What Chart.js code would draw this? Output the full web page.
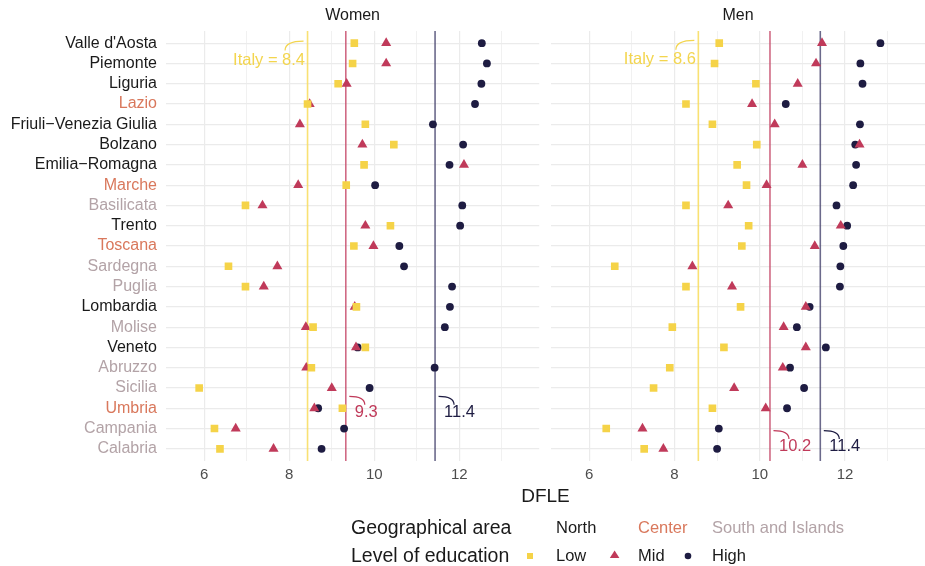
<!DOCTYPE html>
<html><head><meta charset="utf-8">
<script src="https://cdn.jsdelivr.net/npm/chart.js@4.4.1/dist/chart.umd.min.js"></script>
<style>
html,body{margin:0;padding:0;background:#fff;}
#wrap{position:relative;width:925px;height:566px;overflow:hidden;font-family:"Liberation Sans",Arial,sans-serif;}
#left{position:absolute;left:0;top:0;width:545px;height:566px;}
#right{position:absolute;left:545px;top:0;width:386px;height:566px;}
.t{position:absolute;white-space:nowrap;line-height:1;}
</style></head><body>
<div id="wrap">
<div id="left"><canvas id="cL"></canvas></div>
<div id="right"><canvas id="cR"></canvas></div>
<div class="t" style="left:520px;top:486px;font-size:19px;color:#1a1a1a;width:51px;text-align:center;">DFLE</div>
<div class="t" style="left:351px;top:518px;font-size:19.5px;color:#1a1a1a;">Geographical area</div>
<div class="t" style="left:556px;top:519px;font-size:16.5px;color:#1a1a1a;">North</div>
<div class="t" style="left:638px;top:519px;font-size:16.5px;color:#D9785C;">Center</div>
<div class="t" style="left:712px;top:519px;font-size:16.5px;color:#B3A3A7;">South and Islands</div>
<div class="t" style="left:351px;top:546px;font-size:19.5px;color:#1a1a1a;">Level of education</div>
<svg style="position:absolute;left:520px;top:546px;" width="190" height="20">
  <rect x="7" y="7" width="6" height="6" fill="#F5D348"/>
  <polygon points="94.6,4.5 99.4,12 89.8,12" fill="#C03A5A"/>
  <circle cx="168" cy="10" r="3.3" fill="#1E1C42"/>
</svg>
<div class="t" style="left:556px;top:547px;font-size:16.5px;color:#1a1a1a;">Low</div>
<div class="t" style="left:638px;top:547px;font-size:16.5px;color:#1a1a1a;">Mid</div>
<div class="t" style="left:712px;top:547px;font-size:16.5px;color:#1a1a1a;">High</div>
</div>
<script>
const regions = ["Valle d'Aosta","Piemonte","Liguria","Lazio","Friuli\u2212Venezia Giulia","Bolzano","Emilia\u2212Romagna","Marche","Basilicata","Trento","Toscana","Sardegna","Puglia","Lombardia","Molise","Veneto","Abruzzo","Sicilia","Umbria","Campania","Calabria"];
const areas = ["North","North","North","Center","North","North","North","Center","South","North","Center","South","South","North","South","North","South","South","Center","South","South"];
const womenLow  = [9.53,9.49,9.15,8.43,9.79,10.46,9.76,9.34,6.97,10.38,9.52,6.57,6.97,9.58,8.56,9.79,8.52,5.88,9.25,6.24,6.37];
const womenMid  = [10.28,10.28,9.35,8.48,8.25,9.72,12.11,8.21,7.37,9.79,9.98,7.72,7.40,9.54,8.39,9.57,8.40,9.00,8.59,6.74,7.63];
const womenHigh = [12.53,12.65,12.52,12.37,11.38,12.09,11.77,10.02,12.07,12.02,10.59,10.70,11.83,11.78,11.66,9.61,11.42,9.89,8.68,9.29,8.76];
const menLow    = [9.05,8.94,9.91,8.27,8.89,9.93,9.47,9.69,8.27,9.74,9.58,6.60,8.27,9.55,7.95,9.16,7.89,7.51,8.89,6.40,7.29];
const menMid    = [11.46,11.32,10.89,9.82,10.35,12.34,11.00,10.16,9.26,11.90,11.29,8.42,9.35,11.08,10.56,11.08,10.54,9.40,10.14,7.25,7.74];
const menHigh   = [12.83,12.36,12.41,10.61,12.35,12.24,12.26,12.19,11.80,12.05,11.96,11.89,11.88,11.17,10.87,11.55,10.71,11.04,10.64,9.04,9.00];
const italyWomen = [8.43, 9.33, 11.43];   // Low, Mid, High national values
const italyMen   = [8.56, 10.24, 11.42];
const xGrid = [6,7,8,9,10,11,12,13];
const xTickLabels = [6,8,10,12];

const FONT = '"Liberation Sans", Arial, sans-serif';
const areaColor = {North:'#1a1a1a', Center:'#D9785C', South:'#B3A3A7'};
const COL = {low:'#F5D348', mid:'#C03A5A', high:'#1E1C42'};
const LINECOL = ['rgba(248,222,100,0.9)','rgba(200,80,110,0.85)','rgba(70,68,110,0.8)'];

const annPlugin = {
  id:'ann',
  afterDatasetsDraw(chart, args, opts) {
    const {ctx, chartArea, scales} = chart;
    const x = scales.x, y = scales.y;
    ctx.save();
    ctx.font = '16px ' + FONT;
    ctx.fillStyle = '#1a1a1a'; ctx.textAlign = 'center'; ctx.textBaseline = 'middle';
    ctx.fillText(opts.title, (chartArea.left + chartArea.right) / 2, 16);
    for (const a of opts.items) {
      const xl = x.getPixelForValue(a.value);
      const ty = y.getPixelForValue(a.row);
      ctx.strokeStyle = a.color; ctx.fillStyle = a.color; ctx.lineWidth = 1.2;
      ctx.font = '16.5px ' + FONT;
      ctx.textBaseline = 'middle';
      ctx.beginPath();
      if (a.side === 'left') {
        ctx.textAlign = 'right';
        ctx.fillText(a.text, xl - 2.5, ty);
        const x0 = xl - 22.5, y0 = ty - 9.7, x1 = xl - 4, y1 = ty - 19;
        ctx.moveTo(x0, y0); ctx.quadraticCurveTo(x0, y1, x1, y1);
      } else {
        ctx.textAlign = 'left';
        ctx.fillText(a.text, xl + 9, ty);
        const x0 = xl + 3.5, y0 = ty - 16, x1 = xl + 19, y1 = ty - 7.5;
        ctx.moveTo(x0, y0); ctx.quadraticCurveTo(x1, y0, x1, y1);
      }
      ctx.stroke();
    }
    ctx.restore();
  }
};

function makeChart(id, low, mid, high, italy, title, showY, pad, items) {
  const pts = (arr, label, style, color, r) => ({
    label, data: arr.map((v, i) => ({x: v, y: i})), pointStyle: style,
    backgroundColor: color, borderColor: color, borderWidth: 0,
    pointRadius: r, pointHoverRadius: r, order: 0
  });
  const vline = (v, color) => ({
    label: 'line', data: [{x: v, y: -0.6}, {x: v, y: 20.6}], showLine: true,
    borderColor: color, borderWidth: 1.6, pointRadius: 0, order: 5, fill: false
  });
  return new Chart(document.getElementById(id), {
    type: 'scatter',
    data: {datasets: [
      pts(low, 'Low', 'rect', COL.low, 5.4),
      pts(mid, 'Mid', 'triangle', COL.mid, 5.8),
      pts(high, 'High', 'circle', COL.high, 3.9),
      vline(italy[0], LINECOL[0]), vline(italy[1], LINECOL[1]), vline(italy[2], LINECOL[2])
    ]},
    options: {
      responsive: true, maintainAspectRatio: false, animation: false, events: [],
      layout: {padding: pad},
      plugins: {legend: {display: false}, tooltip: {enabled: false}, title: {display: false},
        ann: {title, items}},
      scales: {
        x: {
          type: 'linear', min: 5.1, max: 13.88,
          afterBuildTicks: s => { s.ticks = xGrid.map(v => ({value: v})); },
          afterFit: s => { s.height = 30; },
          grid: {color: '#EBEBEB', drawTicks: false,
                 lineWidth: c => (c.tick && xTickLabels.includes(c.tick.value)) ? 1.2 : 0.7},
          border: {display: false},
          ticks: {autoSkip: false, maxRotation: 0, padding: 5, color: '#4D4D4D',
                  font: {size: 15, family: FONT},
                  callback: v => xTickLabels.includes(v) ? String(v) : ''}
        },
        y: {
          type: 'linear', reverse: true, min: -0.6, max: 20.6,
          afterBuildTicks: s => { s.ticks = regions.map((r, i) => ({value: i})); },
          afterFit: s => { s.width = showY ? 166 : 0; },
          grid: {color: '#EBEBEB', lineWidth: 1.2, drawTicks: false},
          border: {display: false},
          ticks: {display: showY, autoSkip: false, padding: 9,
                  font: {size: 16, family: FONT},
                  color: c => areaColor[areas[c.tick ? c.tick.value : c.index]] || '#1a1a1a',
                  callback: v => regions[v]}
        }
      }
    },
    plugins: [annPlugin]
  });
}

makeChart('cL', womenLow, womenMid, womenHigh, italyWomen, 'Women', true,
  {top: 31, left: 0, right: 5, bottom: 75},
  [
    {value: italyWomen[0], row: 0.84, side: 'left', text: 'Italy = ' + italyWomen[0].toFixed(1), color: '#F3D54E'},
    {value: italyWomen[1], row: 18.2, side: 'right', text: italyWomen[1].toFixed(1), color: '#C03A5A'},
    {value: italyWomen[2], row: 18.2, side: 'right', text: italyWomen[2].toFixed(1), color: '#1E1C42'}
  ]);
makeChart('cR', menLow, menMid, menHigh, italyMen, 'Men', false,
  {top: 31, left: 5, right: 0, bottom: 75},
  [
    {value: italyMen[0], row: 0.8, side: 'left', text: 'Italy = ' + italyMen[0].toFixed(1), color: '#F3D54E'},
    {value: italyMen[1], row: 19.89, side: 'right', text: italyMen[1].toFixed(1), color: '#C03A5A'},
    {value: italyMen[2], row: 19.89, side: 'right', text: italyMen[2].toFixed(1), color: '#1E1C42'}
  ]);
</script>
</body></html>
